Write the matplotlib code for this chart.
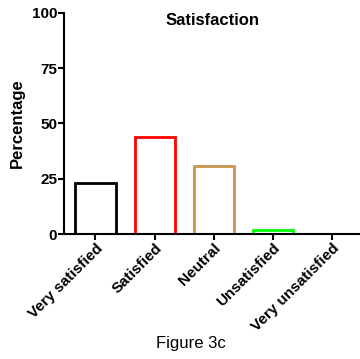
import matplotlib.pyplot as plt

plt.rcParams['font.family'] = ['Liberation Sans', 'DejaVu Sans']

categories = ['Very satisfied', 'Satisfied', 'Neutral', 'Unsatisfied', 'Very unsatisfied']
values = [23, 44, 31, 2, 0]
edge_colors = ['black', '#ff0000', '#c8964e', '#00ff00', 'black']

fig = plt.figure(figsize=(3.6, 3.59), dpi=100)
ax = fig.add_axes([0.178, 0.348, 0.822, 0.616])

x = range(len(categories))
ax.bar(x, values, width=0.68, facecolor='white', edgecolor=edge_colors, linewidth=2)

ax.set_xlim(-0.53, 4.47)
ax.set_ylim(0, 100)
ax.set_yticks([0, 25, 50, 75, 100])
ax.set_xticks(list(x))
ax.set_xticklabels(categories, rotation=45, ha='right', rotation_mode='anchor',
                   fontsize=11, fontweight='bold')
for lbl in ax.get_yticklabels():
    lbl.set_fontweight('bold')
    lbl.set_fontsize(11)

for s in ['top', 'right']:
    ax.spines[s].set_visible(False)
for s in ['left', 'bottom']:
    ax.spines[s].set_linewidth(1.5)
ax.tick_params(width=1.5, length=4, pad=1)

ax.set_ylabel('Percentage', fontsize=12, fontweight='bold', labelpad=5)
ax.text(0.5, 1.0, 'Satisfaction', transform=ax.transAxes, ha='center', va='top',
        fontsize=12, fontweight='bold')
fig.text(0.53, 0.03, 'Figure 3c', ha='center', fontsize=12)

fig.savefig('out.png')
